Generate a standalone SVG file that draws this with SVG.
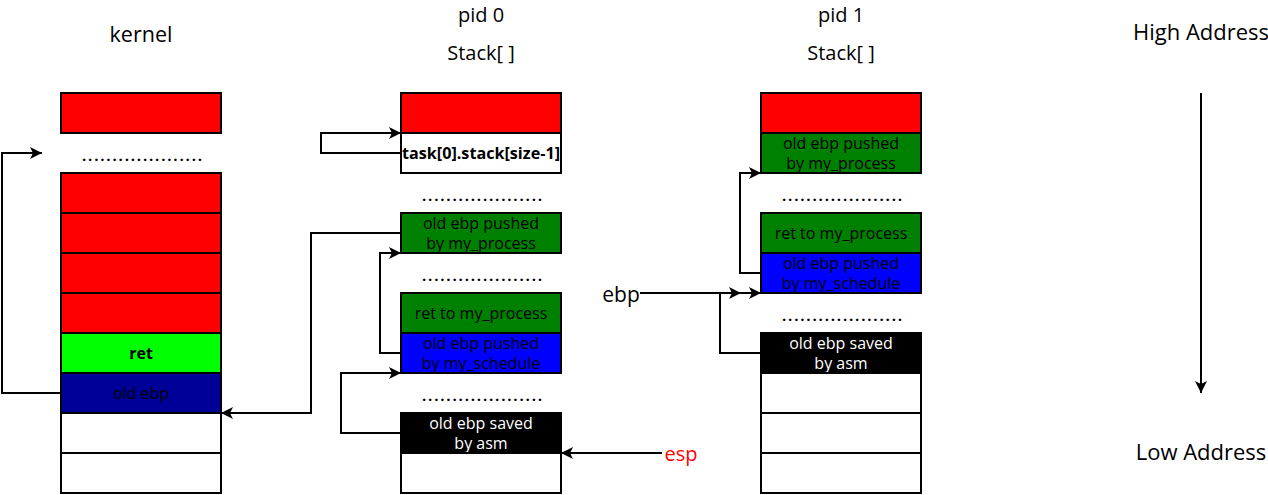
<svg xmlns="http://www.w3.org/2000/svg" width="1268" height="495" viewBox="0 0 1268 495">
<style>
.t{font-family:"Open Sans","Noto Sans","Liberation Sans",sans-serif;fill:#000}
.title{font-size:20px;text-anchor:middle}
.big{font-size:22px}
.cell{font-size:16px;text-anchor:middle}
.dots{font-size:15px;font-weight:bold}
.c rect{stroke:#000;stroke-width:2}
.red{fill:#ff0000}.grn{fill:#008000}.lime{fill:#00ff00}.blu{fill:#0000ff}.navy{fill:#000099}.blk{fill:#000}.wht{fill:#fff}
.conn path{fill:none;stroke:#000;stroke-width:2}
</style>
<defs>
<marker id="a" markerUnits="userSpaceOnUse" markerWidth="14" markerHeight="12" refX="12" refY="6" orient="auto">
<path d="M0,0 L12,6 L0,12 L3,6 z" fill="#000"/>
</marker>
</defs>
<rect width="1268" height="495" fill="#fff"/>

<g id="titles">
<text class="t title" x="141" y="42" font-size="21.5px" style="font-size:21.5px">kernel</text>
<text class="t title" x="481" y="22">pid 0</text>
<text class="t title" x="481" y="60">Stack[ ]</text>
<text class="t title" x="841" y="22">pid 1</text>
<text class="t title" x="841" y="60">Stack[ ]</text>
<text class="t title big" x="1201" y="40">High Address</text>
<text class="t title big" x="1201" y="460">Low Address</text>
</g>

<g id="kernel" class="c">
<rect class="red" x="61" y="93" width="160" height="40"/>
<text class="t dots" x="82" y="161" textLength="120" lengthAdjust="spacing">....................</text>
<rect class="red" x="61" y="173" width="160" height="40"/>
<rect class="red" x="61" y="213" width="160" height="40"/>
<rect class="red" x="61" y="253" width="160" height="40"/>
<rect class="red" x="61" y="293" width="160" height="40"/>
<rect class="lime" x="61" y="333" width="160" height="40"/>
<text class="t cell" x="141" y="359" font-weight="bold">ret</text>
<rect class="navy" x="61" y="373" width="160" height="40"/>
<text class="t cell" x="141" y="399">old ebp</text>
<rect class="wht" x="61" y="413" width="160" height="40"/>
<rect class="wht" x="61" y="453" width="160" height="40"/>
</g>

<g id="pid0" class="c">
<rect class="red" x="401" y="93" width="160" height="40"/>
<rect class="wht" x="401" y="133" width="160" height="40"/>
<text class="t cell" x="481" y="159" font-weight="bold" textLength="158" lengthAdjust="spacingAndGlyphs">task[0].stack[size-1]</text>
<text class="t dots" x="422" y="201" textLength="120" lengthAdjust="spacing">....................</text>
<rect class="grn" x="401" y="213" width="160" height="40"/>
<text class="t cell" x="481" y="229">old ebp pushed</text>
<text class="t cell" x="481" y="249">by my_process</text>
<text class="t dots" x="422" y="281" textLength="120" lengthAdjust="spacing">....................</text>
<rect class="grn" x="401" y="293" width="160" height="40"/>
<text class="t cell" x="481" y="319">ret to my_process</text>
<rect class="blu" x="401" y="333" width="160" height="40"/>
<text class="t cell" x="481" y="349">old ebp pushed</text>
<text class="t cell" x="481" y="369">by my_schedule</text>
<text class="t dots" x="422" y="401" textLength="120" lengthAdjust="spacing">....................</text>
<rect class="blk" x="401" y="413" width="160" height="40"/>
<text class="t cell" x="481" y="429" style="fill:#fff">old ebp saved</text>
<text class="t cell" x="481" y="449" style="fill:#fff">by asm</text>
<rect class="wht" x="401" y="453" width="160" height="40"/>
</g>

<g id="pid1" class="c">
<rect class="red" x="761" y="93" width="160" height="40"/>
<rect class="grn" x="761" y="133" width="160" height="40"/>
<text class="t cell" x="841" y="149">old ebp pushed</text>
<text class="t cell" x="841" y="169">by my_process</text>
<text class="t dots" x="782" y="201" textLength="120" lengthAdjust="spacing">....................</text>
<rect class="grn" x="761" y="213" width="160" height="40"/>
<text class="t cell" x="841" y="239">ret to my_process</text>
<rect class="blu" x="761" y="253" width="160" height="40"/>
<text class="t cell" x="841" y="269">old ebp pushed</text>
<text class="t cell" x="841" y="289">by my_schedule</text>
<text class="t dots" x="782" y="321" textLength="120" lengthAdjust="spacing">....................</text>
<rect class="blk" x="761" y="333" width="160" height="40"/>
<text class="t cell" x="841" y="349" style="fill:#fff">old ebp saved</text>
<text class="t cell" x="841" y="369" style="fill:#fff">by asm</text>
<rect class="wht" x="761" y="373" width="160" height="40"/>
<rect class="wht" x="761" y="413" width="160" height="40"/>
<rect class="wht" x="761" y="453" width="160" height="40"/>
</g>

<g id="labels">
<text class="t title" x="621" y="302" style="font-size:21px">ebp</text>
<text class="t title" x="681" y="461" style="fill:#ff0000">esp</text>
</g>

<g id="connectors" class="conn">
<path d="M61,393 H2 V153 H42" marker-end="url(#a)"/>
<path d="M401,233 H311 V413 H221" marker-end="url(#a)"/>
<path d="M401,153 H321 V133 H401" marker-end="url(#a)"/>
<path d="M401,353 H380 V253 H401" marker-end="url(#a)"/>
<path d="M401,433 H341 V373 H401" marker-end="url(#a)"/>
<path d="M662,453 H561" marker-end="url(#a)"/>
<path d="M761,273 H740 V173 H761" marker-end="url(#a)"/>
<path d="M640,293 H761" marker-end="url(#a)"/>
<path d="M761,353 H720 V293 H741" marker-end="url(#a)"/>
<path d="M1201,93 V393" marker-end="url(#a)"/>
</g>
</svg>
